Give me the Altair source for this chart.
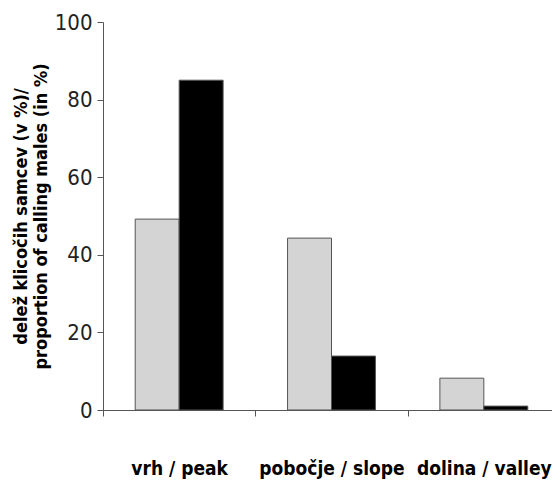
import altair as alt
import pandas as pd

categories = ["vrh / peak", "pobočje / slope", "dolina / valley"]
series = ["series 1", "series 2"]
values_s1 = [49.2, 44.3, 8.2]
values_s2 = [85.0, 13.9, 1.0]

rows = []
for c, a, b in zip(categories, values_s1, values_s2):
    rows.append({"cat": c, "series": series[0], "value": a})
    rows.append({"cat": c, "series": series[1], "value": b})
df = pd.DataFrame(rows)

FONT = "DejaVu Sans Condensed"

chart = alt.Chart(df).mark_bar(stroke="#555555", strokeWidth=1).encode(
    x=alt.X("cat:N", sort=categories, title=None,
            scale=alt.Scale(paddingInner=0, paddingOuter=0, range=[0, 457]),
            axis=alt.Axis(tickBand="extent", labelAngle=0, labelPadding=43,
                          labelFontSize=19, labelFontWeight="bold", labelFont=FONT,
                          labelColor="black", domainColor="#555555", tickColor="#555555",
                          tickSize=6, grid=False)),
    xOffset=alt.XOffset("series:N", sort=series,
                        scale=alt.Scale(paddingInner=0, paddingOuter=0.733)),
    y=alt.Y("value:Q", scale=alt.Scale(domain=[0, 100]),
            title=["delež klicočih samcev (v %)/", "proportion of calling males (in %)"],
            axis=alt.Axis(values=[0, 20, 40, 60, 80, 100], grid=False, tickSize=6,
                          labelFontSize=22, labelFont=FONT, labelColor="#222222",
                          labelPadding=5, domainColor="#555555", tickColor="#555555",
                          titleFont=FONT, titleFontSize=18, titleFontWeight="bold",
                          titleColor="black", titlePadding=4)),
    color=alt.Color("series:N", sort=series,
                    scale=alt.Scale(domain=series, range=["#d4d4d4", "#000000"]),
                    legend=None),
).properties(
    width=449, height=388,
    autosize=alt.AutoSizeParams(type="none"),
    padding={"left": 95, "top": 14, "right": 0, "bottom": 78},
).configure_view(stroke=None)

chart.save("out.html", embed_options={"renderer": "svg", "actions": False})
